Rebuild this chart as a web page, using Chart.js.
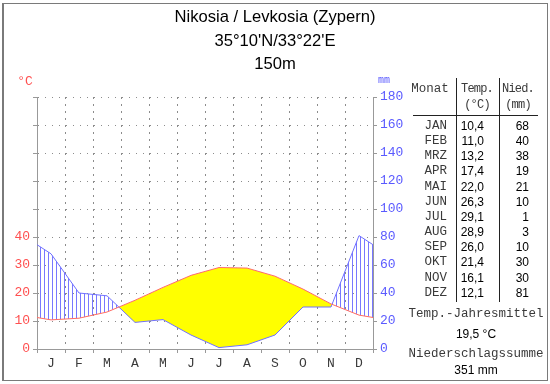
<!DOCTYPE html>
<html>
<head>
<meta charset="utf-8">
<script src="https://cdn.jsdelivr.net/npm/chart.js@4"></script>
<style>
  html, body { margin: 0; padding: 0; background: #fff; }
  #page { position: relative; width: 550px; height: 384px; overflow: hidden; }
  #frame { position: absolute; left: 2px; top: 3px; width: 543px; height: 376px;
           border: 1px solid #7a7a7a; border-left-width: 2px; }
  #area { position: absolute; left: 0; top: 0; }
  .t { position: absolute; white-space: pre; line-height: 1; }
  .mono { font-family: "Liberation Mono", "Courier New", monospace; font-size: 12.5px; color: #3a3a3a; }
  .sans { font-family: "Liberation Sans", Arial, sans-serif; font-size: 12px; color: #000; }
  .ln { position: absolute; background: #222; }
</style>
</head>
<body>
<div id="page">
  <div id="frame"></div>
  <canvas id="area" width="410" height="384"></canvas>
</div>
<script>
// Nikosia / Levkosia climate data
var months = ["J", "F", "M", "A", "M", "J", "J", "A", "S", "O", "N", "D"];
var monthNames = ["JAN", "FEB", "MRZ", "APR", "MAI", "JUN", "JUL", "AUG", "SEP", "OKT", "NOV", "DEZ"];
var temps = [10.4, 11.0, 13.2, 17.4, 22.0, 26.3, 29.1, 28.9, 26.0, 21.4, 16.1, 12.1];
var precip = [68, 40, 38, 19, 21, 10, 1, 3, 10, 30, 30, 81];
var tempTicks = [0, 10, 20, 30, 40];
var titleLines = ["Nikosia / Levkosia (Zypern)", "35°10'N/33°22'E", "150m"];

var page = document.getElementById('page');
function put(text, x, y, cls, align, color, size, spacing) {
  var s = document.createElement('div');
  s.className = 't ' + cls;
  s.textContent = text;
  if (size) s.style.fontSize = size + 'px';
  if (color) s.style.color = color;
  if (spacing) s.style.letterSpacing = spacing + 'px';
  s.style.top = y + 'px';
  s.style.left = x + 'px';
  var tx = align === 'center' ? '-50%' : (align === 'right' ? '-100%' : '0');
  s.style.transform = 'translate(' + tx + ', -50%)';
  page.appendChild(s);
}
function line(x, y, w, h) {
  var d = document.createElement('div');
  d.className = 'ln';
  d.style.left = x + 'px'; d.style.top = y + 'px';
  d.style.width = w + 'px'; d.style.height = h + 'px';
  page.appendChild(d);
}

// title
titleLines.forEach(function (txt, i) {
  put(txt, 275, 17 + i * 23.5, 'sans', 'center', '#000', 16.6);
});
// axis units
put('°C', 25, 81, 'mono', 'center', '#ff5050', 13);
put('mm', 384, 81, 'mono', 'center', '#5a5aff', 10);

// table
put('Monat', 430, 89, 'mono', 'center');
put('Temp.', 477, 89, 'mono', 'center', null, 12, -0.8);
put('(°C)', 477, 105, 'mono', 'center', null, 12, -0.8);
put('Nied.', 518, 89, 'mono', 'center', null, 12, -0.8);
put('(mm)', 518, 105, 'mono', 'center', null, 12, -0.8);
line(456, 78, 1, 224);
line(499, 78, 1, 224);
line(413, 115, 125, 1);
monthNames.forEach(function (m, i) {
  var y = 126 + i * 15.15;
  put(m, 447, y, 'mono', 'right');
  put(temps[i].toFixed(1).replace('.', ','), 484, y, 'sans', 'right');
  put(String(precip[i]), 529, y, 'sans', 'right');
});
var tSum = 0, pSum = 0;
temps.forEach(function (v) { tSum += v; });
precip.forEach(function (v) { pSum += v; });
put('Temp.-Jahresmittel', 476, 314, 'mono', 'center');
put((tSum / 12).toFixed(1).replace('.', ',') + ' °C', 476, 334, 'sans', 'center');
put('Niederschlagssumme', 476, 354, 'mono', 'center');
put(pSum + ' mm', 476, 370, 'sans', 'center');

// hatching for humid period
var pc = document.createElement('canvas');
pc.width = 4; pc.height = 4;
var pctx = pc.getContext('2d');
pctx.fillStyle = '#7878ff';
pctx.fillRect(0, 0, 1, 4);
var ctx = document.getElementById('area').getContext('2d');
var hatch = ctx.createPattern(pc, 'repeat');

// points at mid-month, Dec/Jan repeated beyond the edges (clipped at chart area)
function toPoints(arr) {
  var pts = [{ x: -0.5, y: arr[11] }];
  arr.forEach(function (v, i) { pts.push({ x: i + 0.5, y: v }); });
  pts.push({ x: 12.5, y: arr[0] });
  return pts;
}

var monoFont = { family: "'Liberation Mono', 'Courier New', monospace", size: 13 };
var gridGray = '#8c8c8c';

var myChart = new Chart(ctx, {
  type: 'line',
  data: {
    datasets: [{
      label: 'Temp.',
      data: toPoints(temps),
      yAxisID: 'y',
      borderColor: '#ff6a6a',
      borderWidth: 1,
      pointRadius: 0,
      tension: 0,
      fill: false
    }, {
      label: 'Nied.',
      data: toPoints(precip),
      yAxisID: 'y2',
      borderColor: '#7070ff',
      borderWidth: 1,
      pointRadius: 0,
      tension: 0,
      fill: { target: 0, above: hatch, below: '#ffff00' }
    }]
  },
  options: {
    responsive: false,
    animation: false,
    devicePixelRatio: 1,
    layout: { padding: { top: 97, left: 0, right: 0, bottom: 0 } },
    plugins: { legend: { display: false }, tooltip: { enabled: false } },
    scales: {
      x: {
        type: 'linear',
        min: 0, max: 12,
        afterBuildTicks: function (scale) {
          scale.ticks = months.map(function (m, i) { return { value: i + 0.5 }; });
        },
        afterFit: function (scale) { scale.height = 35; },
        ticks: {
          autoSkip: false, maxRotation: 0, padding: 3,
          color: '#3a3a3a', font: monoFont,
          callback: function (value, index) { return months[index]; }
        },
        grid: {
          offset: true,
          color: function (c) { return (c.index === 0 || c.index === 12) ? 'rgba(0,0,0,0)' : gridGray; },
          tickLength: 4,
          tickColor: '#999'
        },
        border: { color: '#999', width: 1, dash: [2, 5] }
      },
      y: {
        position: 'left',
        min: 0, max: 90,
        afterBuildTicks: function (scale) {
          var t = [];
          for (var v = 0; v <= 90; v += 10) t.push({ value: v });
          scale.ticks = t;
        },
        afterFit: function (scale) { scale.width = 37; },
        ticks: {
          padding: 3, color: '#ff5050', font: monoFont,
          callback: function (value) { return tempTicks.indexOf(value) >= 0 ? String(value) : ''; }
        },
        grid: {
          color: function (c) { return c.index === 0 ? 'rgba(0,0,0,0)' : gridGray; },
          tickLength: 4,
          tickColor: '#999'
        },
        border: { color: '#999', width: 1, dash: [1, 6] }
      },
      y2: {
        position: 'right',
        min: 0, max: 180,
        ticks: { stepSize: 20, padding: 3, color: '#5a5aff', font: monoFont },
        afterFit: function (scale) { scale.width = 37; },
        grid: { drawOnChartArea: false, tickLength: 4, tickColor: '#999' },
        border: { color: '#999', width: 1 }
      }
    }
  }
});
</script>
</body>
</html>
